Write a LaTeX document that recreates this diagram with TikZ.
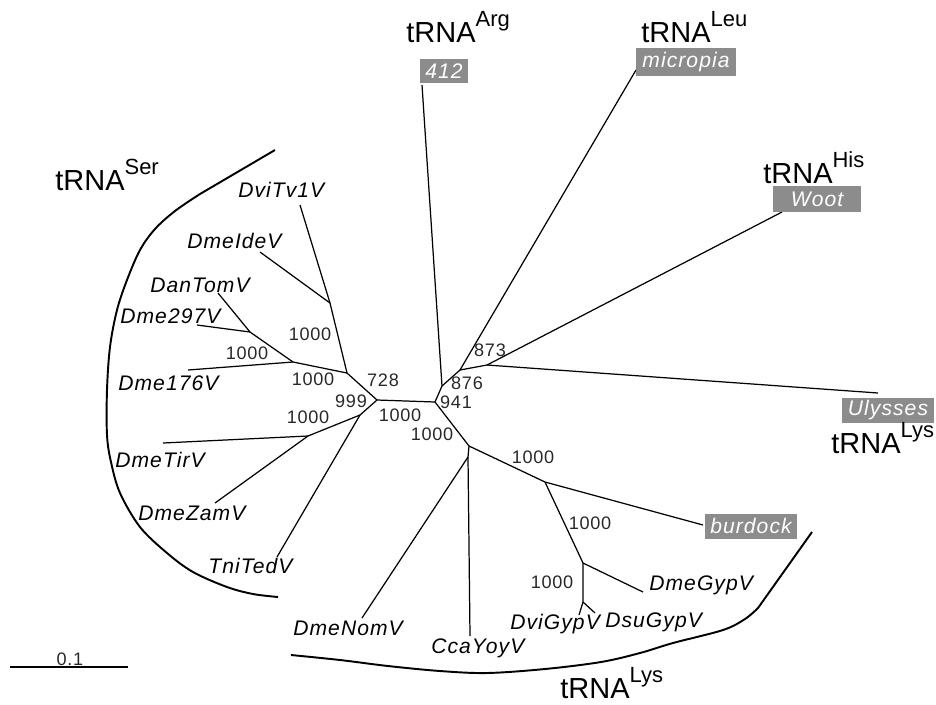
\documentclass[tikz,border=0pt]{standalone}
\usepackage{fontspec}
\setmainfont{Liberation Sans}
\newfontfamily\leaffont[LetterSpace=5]{Liberation Sans}
\newfontfamily\numfont[LetterSpace=4]{Liberation Sans}
\definecolor{boxgray}{RGB}{140,140,140}
\definecolor{numgray}{RGB}{40,40,40}
\tikzset{
  branch/.style={line width=0.7pt, black},
  cladearc/.style={line width=1.1pt, black},
  leaf/.style={anchor=base west, inner sep=0pt, font=\leaffont\fontsize{12}{14}\selectfont\itshape},
  boot/.style={inner sep=0pt, font=\numfont\fontsize{10.3}{12}\selectfont, text=numgray},
  tebox/.style={fill=boxgray, text=white, inner sep=0pt, font=\leaffont\fontsize{12}{14}\selectfont\itshape},
  trna/.style={anchor=base west, inner sep=0pt, font=\fontsize{16.5}{19}\selectfont},
}
\newcommand{\trnalabel}[1]{tRNA\raisebox{8.8pt}{\fontsize{12.5}{14}\selectfont #1}}
\begin{document}
\begin{tikzpicture}[x=0.02cm, y=-0.02cm]
\useasboundingbox (0,0) rectangle (936,704);

% internal nodes
\coordinate (A) at (377,400);
\coordinate (C) at (347,373);
\coordinate (D) at (330,303);
\coordinate (E) at (293,362);
\coordinate (F) at (250,332);
\coordinate (G) at (360,415);
\coordinate (H) at (308,436);
\coordinate (B) at (435,402);
\coordinate (N) at (442,386);
\coordinate (P) at (460,370);
\coordinate (Q) at (487,365);
\coordinate (I) at (469,446);
\coordinate (J) at (468,457);
\coordinate (K) at (545,482);
\coordinate (L) at (583,563);
\coordinate (M) at (583,602);

% branch ends
\coordinate (eDviTv) at (300,205);
\coordinate (eDmeIde) at (260,252);
\coordinate (eDanTom) at (218,293);
\coordinate (eDme297) at (197,325);
\coordinate (eDme176) at (188,370);
\coordinate (eDmeTir) at (163,443);
\coordinate (eDmeZam) at (215,503);
\coordinate (eTniTed) at (277,557);
\coordinate (e412) at (422,85);
\coordinate (eMicropia) at (636,70);
\coordinate (eWoot) at (782,212);
\coordinate (eUlysses) at (878,393);
\coordinate (eDmeNom) at (362,618);
\coordinate (eCcaYoy) at (470,636);
\coordinate (eBurdock) at (703,525);
\coordinate (eDmeGyp) at (643,592);
\coordinate (eDviGyp) at (579,615);
\coordinate (eDsuGyp) at (595,613);

% branches
\draw[branch] (A) -- (C) -- (D) -- (eDviTv);
\draw[branch] (D) -- (eDmeIde);
\draw[branch] (C) -- (E) -- (F) -- (eDanTom);
\draw[branch] (F) -- (eDme297);
\draw[branch] (E) -- (eDme176);
\draw[branch] (A) -- (G) -- (H) -- (eDmeTir);
\draw[branch] (H) -- (eDmeZam);
\draw[branch] (G) -- (eTniTed);
\draw[branch] (A) -- (B) -- (N) -- (e412);
\draw[branch] (N) -- (P) -- (eMicropia);
\draw[branch] (P) -- (Q) -- (eWoot);
\draw[branch] (Q) -- (eUlysses);
\draw[branch] (B) -- (I) -- (J) -- (eCcaYoy);
\draw[branch] (J) -- (eDmeNom);
\draw[branch] (I) -- (K) -- (eBurdock);
\draw[branch] (K) -- (L) -- (eDmeGyp);
\draw[branch] (L) -- (M) -- (eDviGyp);
\draw[branch] (M) -- (eDsuGyp);

% leaf labels
\node[leaf] (lDviTv) at (238,197) {DviTv1V};
\node[leaf] (lDmeIde) at (187,248) {DmeIdeV};
\node[leaf] (lDanTom) at (150,292) {DanTomV};
\node[leaf] (lDme297) at (120,323) {Dme297V};
\node[leaf] (lDme176) at (118,390) {Dme176V};
\node[leaf] (lDmeTir) at (115,467) {DmeTirV};
\node[leaf] (lDmeZam) at (138,520) {DmeZamV};
\node[leaf] (lTniTed) at (208,573) {TniTedV};
\node[leaf] (lDmeNom) at (293,635) {DmeNomV};
\node[leaf] (lCcaYoy) at (431,653) {CcaYoyV};
\node[leaf] (lDviGyp) at (510,629) {DviGypV};
\node[leaf] (lDsuGyp) at (605,627) {DsuGypV};
\node[leaf] (lDmeGyp) at (649,590) {DmeGypV};

% element boxes
\node[tebox, minimum width=48*0.02cm, minimum height=24*0.02cm] (b412) at (444,71) {412};
\node[tebox, minimum width=100*0.02cm, minimum height=28*0.02cm] (bMicropia) at (686,62) {micropia};
\node[tebox, minimum width=88*0.02cm, minimum height=26*0.02cm] (bWoot) at (817,199) {Woot};
\node[tebox, minimum width=92*0.02cm, minimum height=25*0.02cm] (bUlysses) at (888,410) {Ulysses};
\node[tebox, minimum width=92*0.02cm, minimum height=25*0.02cm] (bBurdock) at (751,526) {burdock};

% bootstrap values
\node[boot] (sD) at (310,334) {1000};
\node[boot] (sE) at (313,379) {1000};
\node[boot] (sF) at (247,353) {1000};
\node[boot] (sC) at (383,380) {728};
\node[boot] (sA) at (351,401) {999};
\node[boot] (sH) at (308,417) {1000};
\node[boot] (sAB) at (400,415) {1000};
\node[boot] (sB) at (456,402) {941};
\node[boot] (sN) at (467,383) {876};
\node[boot] (sQ) at (490,350) {873};
\node[boot] (sI) at (432,434) {1000};
\node[boot] (sK) at (533,457) {1000};
\node[boot] (sL) at (590,523) {1000};
\node[boot] (sM) at (552,582) {1000};

% tRNA group labels
\node[trna] (tSer) at (55,190) {\trnalabel{Ser}};
\node[trna] (tArg) at (406,42) {\trnalabel{Arg}};
\node[trna] (tLeu) at (641,42) {\trnalabel{Leu}};
\node[trna] (tHis) at (763,183) {\trnalabel{His}};
\node[trna] (tLysR) at (831,453) {\trnalabel{Lys}};
\node[trna] (tLysB) at (560,698) {\trnalabel{Lys}};

% clade arcs
\draw[cladearc] (275,150) -- (200,194) plot[smooth, tension=0.55] coordinates {(200,194) (175,211) (155,229) (140,250) (127,280) (117,310) (110,347) (107,390) (107,435) (111,462) (120,493) (140,527) (167,553) (193,572) (227,587) (253,594) (278,597)};
\draw[cladearc] plot[smooth, tension=0.55] coordinates {(291,655) (340,660) (388,666) (440,671) (487,673) (545,669) (601,662) (640,653) (673,643) (723,630) (745,619) (758,608)} -- (812,532);

% scale bar
\coordinate (sb1) at (10,667);
\coordinate (sb2) at (128,667);
\draw[branch] (sb1) -- (sb2);
\node[boot, anchor=base] (sbl) at (70,665) {0.1};
\end{tikzpicture}
\end{document}
